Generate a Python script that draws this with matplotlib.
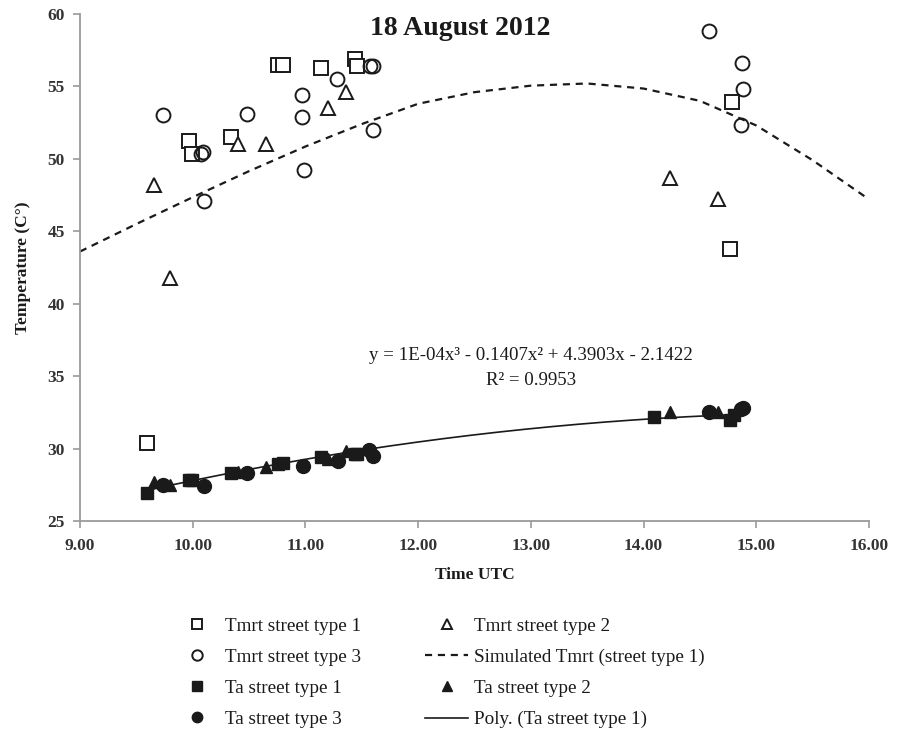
import matplotlib
matplotlib.use("Agg")
import matplotlib.pyplot as plt
import numpy as np

plt.rcParams['font.family'] = ['Liberation Serif', 'DejaVu Serif']

# ---- data ----
tmrt1_t = [9.59, 9.97, 9.99, 10.34, 10.76, 10.80, 11.14, 11.44, 11.46, 14.77, 14.78]
tmrt1_v = [30.4, 51.2, 50.3, 51.5, 56.5, 56.5, 56.3, 56.9, 56.4, 43.8, 53.9]

tmrt2_t = [9.66, 9.80, 10.40, 10.65, 11.20, 11.36, 14.23, 14.66]
tmrt2_v = [48.2, 41.8, 51.0, 51.0, 53.5, 54.6, 48.7, 47.2]

tmrt3_t = [9.74, 10.07, 10.09, 10.10, 10.48, 10.97, 10.97, 10.99, 11.28, 11.57, 11.60, 11.60,
           14.58, 14.87, 14.88, 14.86]
tmrt3_v = [53.0, 50.3, 50.5, 47.1, 53.1, 54.4, 52.9, 49.2, 55.5, 56.4, 56.4, 52.0,
           58.8, 56.6, 54.8, 52.3]

sim_t = [9.0, 9.5, 10.0, 10.5, 11.0, 11.5, 12.0, 12.5, 13.0, 13.5, 14.0, 14.5, 15.0, 15.5, 16.0]
sim_v = [43.6, 45.5, 47.35, 49.15, 50.85, 52.4, 53.8, 54.6, 55.05, 55.2, 54.85, 54.0, 52.3, 49.9, 47.2]

ta1_t = [9.59, 9.97, 9.99, 10.34, 10.76, 10.80, 11.14, 11.44, 11.46, 14.09, 14.77, 14.80]
ta1_v = [26.95, 27.85, 27.8, 28.3, 28.95, 29.0, 29.4, 29.6, 29.65, 32.15, 32.0, 32.35]

ta2_t = [9.66, 9.80, 10.40, 10.65, 11.20, 11.36, 14.23, 14.66]
ta2_v = [27.7, 27.5, 28.4, 28.75, 29.3, 29.85, 32.55, 32.5]

ta3_t = [9.74, 10.10, 10.48, 10.98, 11.29, 11.56, 11.60, 14.58, 14.86, 14.88]
ta3_v = [27.45, 27.4, 28.3, 28.8, 29.15, 29.9, 29.5, 32.55, 32.7, 32.8]

poly_coef = [1e-4, -0.1407, 4.3903, -2.1422]   # trendline coefficients shown on chart
poly_range = [9.59, 14.88]

x_ticks = [9, 10, 11, 12, 13, 14, 15, 16]
y_ticks = [25, 30, 35, 40, 45, 50, 55, 60]

# ---- figure ----
fig = plt.figure(figsize=(9.01, 7.34), dpi=100)
ax = fig.add_axes([0.0888, 0.2902, 0.8757, 0.6908])

c = '#1a1a1a'
ms = 10
mew = 1.4

h_tm1, = ax.plot(tmrt1_t, tmrt1_v, ls='none', marker='s', ms=ms, mfc='white', mec=c, mew=mew,
                 label='Tmrt street type 1')
h_tm2, = ax.plot(tmrt2_t, tmrt2_v, ls='none', marker='^', ms=ms, mfc='white', mec=c, mew=mew,
                 label='Tmrt street type 2')
h_tm3, = ax.plot(tmrt3_t, tmrt3_v, ls='none', marker='o', ms=ms, mfc='none', mec=c, mew=mew,
                 label='Tmrt street type 3')
h_sim, = ax.plot(sim_t, sim_v, ls=(0, (3.2, 2.6)), color=c, lw=1.6,
                 label='Simulated Tmrt (street type 1)')

xx = np.linspace(poly_range[0], poly_range[1], 200)
h_poly, = ax.plot(xx, np.polyval(poly_coef, xx), color=c, lw=1.2, label='Poly. (Ta street type 1)')

h_ta1, = ax.plot(ta1_t, ta1_v, ls='none', marker='s', ms=9, mfc=c, mec=c, label='Ta street type 1')
h_ta2, = ax.plot(ta2_t, ta2_v, ls='none', marker='^', ms=9, mfc=c, mec=c, label='Ta street type 2')
h_ta3, = ax.plot(ta3_t, ta3_v, ls='none', marker='o', ms=10, mfc=c, mec=c, label='Ta street type 3')

ax.set_xlim(9, 16)
ax.set_ylim(25, 60)
ax.set_xticks(x_ticks)
ax.set_xticklabels([f'{v:.2f}' for v in x_ticks])
ax.set_yticks(y_ticks)
ax.set_yticklabels([str(v) for v in y_ticks])

for s in ['top', 'right']:
    ax.spines[s].set_visible(False)
for s in ['left', 'bottom']:
    ax.spines[s].set_color('#9a9a9a')
    ax.spines[s].set_linewidth(1.3)
ax.tick_params(axis='both', direction='out', length=5, width=1.2, color='#9a9a9a',
               labelsize=12.5, labelcolor='#333333')
ax.tick_params(axis='x', pad=7.5)
ax.tick_params(axis='y', pad=6)
for lab in ax.get_xticklabels() + ax.get_yticklabels():
    lab.set_fontweight('bold')

ax.set_xlabel('Time UTC', fontsize=12.5, fontweight='bold', color='#1a1a1a', labelpad=9)
ax.set_ylabel('Temperature (C°)', fontsize=12.5, fontweight='bold', color='#1a1a1a', labelpad=12)

ax.text(0.4816, 0.972, '18 August 2012', transform=ax.transAxes, ha='center', va='center',
        fontsize=20, fontweight='bold', color='#1a1a1a')

ax.text(13.0, 36.45, 'y = 1E-04x³ - 0.1407x² + 4.3903x - 2.1422', ha='center', va='center',
        fontsize=13.6, color='#1a1a1a')
ax.text(13.0, 34.7, 'R² = 0.9953', ha='center', va='center', fontsize=13.6, color='#1a1a1a')

handles = [h_tm1, h_tm3, h_ta1, h_ta3, h_tm2, h_sim, h_ta2, h_poly]
leg = fig.legend(handles=handles, labels=[h.get_label() for h in handles], ncol=2,
                 loc='upper left', bbox_to_anchor=(0.176, 0.182), frameon=False,
                 fontsize=13.8, handlelength=2.25, markerscale=0.75, columnspacing=3.35,
                 labelspacing=0.71, handletextpad=0.3)
for t in leg.get_texts():
    t.set_color('#1a1a1a')

fig.savefig('out.png', dpi=100)
